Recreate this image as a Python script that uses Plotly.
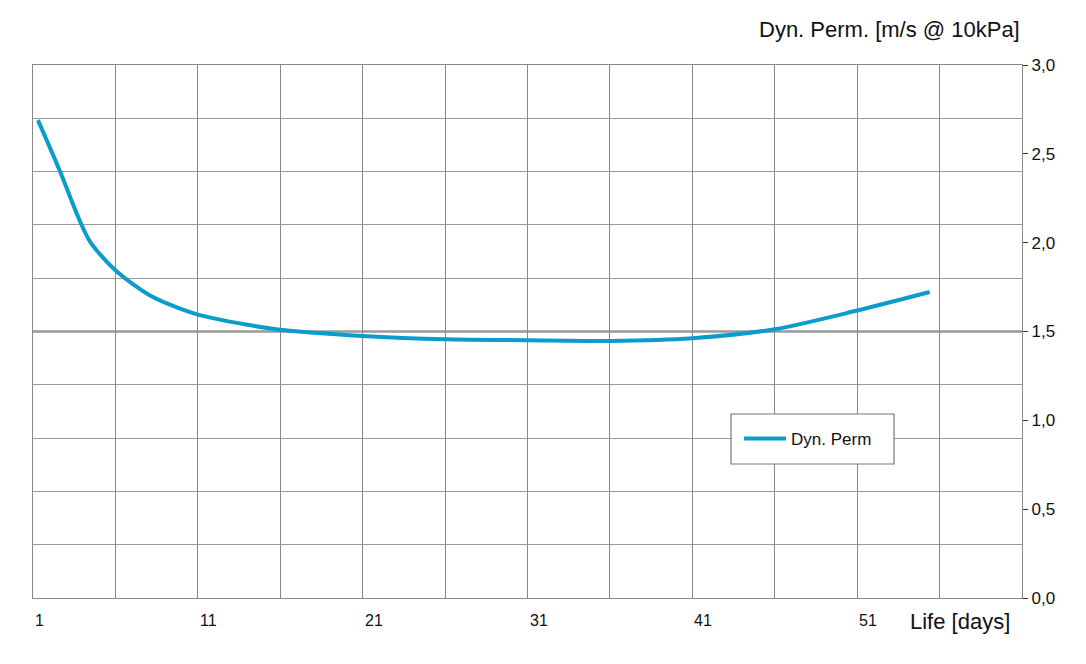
import plotly.graph_objects as go

# Data
days = [1.3, 2.6, 3.85, 4.5, 6.0, 8.1, 10.9, 14.2, 16.0, 21.0, 26.0, 31.0, 36.0, 41.0, 46.0, 51.0, 55.4]
dyn_perm = [2.69, 2.41, 2.12, 2.00, 1.845, 1.703, 1.598, 1.535, 1.51, 1.475, 1.456, 1.451, 1.447, 1.462, 1.513, 1.618, 1.722]
x_tick_labels = [1, 11, 21, 31, 41, 51]
y_tick_vals = [0.0, 0.5, 1.0, 1.5, 2.0, 2.5, 3.0]

FONT = "Liberation Sans, Arial, sans-serif"
GRID = "#888888"

fig = go.Figure()
fig.add_trace(go.Scatter(
    x=days, y=dyn_perm, mode="lines", name="Dyn. Perm",
    line=dict(color="#0a9dcc", width=4, shape="spline", smoothing=0.8),
))

fig.update_layout(
    width=1078, height=656,
    margin=dict(l=25, r=64, t=57, b=66),
    paper_bgcolor="white", plot_bgcolor="white",
    font=dict(family=FONT, color="#111111"),
    showlegend=True,
    legend=dict(
        x=0.7139, y=0.2983, xanchor="left", yanchor="middle",
        borderwidth=0, bgcolor="rgba(0,0,0,0)", itemwidth=42,
        font=dict(size=17, family=FONT),
    ),
    xaxis=dict(
        range=[1, 61], tick0=1, dtick=5, showgrid=True, gridcolor=GRID, gridwidth=1.3,
        showticklabels=False, ticks="", zeroline=False,
        showline=True, mirror=True, linecolor=GRID, linewidth=1.3,
    ),
    yaxis=dict(
        range=[0, 3], side="right", tickmode="array", tickvals=y_tick_vals,
        tickformat=".1f", ticks="outside", ticklen=5, tickcolor="#333333",
        tickfont=dict(size=17, family=FONT), showgrid=False, zeroline=False,
        showline=True, mirror=True, linecolor=GRID, linewidth=1.3,
        minor=dict(tick0=0, dtick=0.3, showgrid=True, gridcolor="#9a9a9a", gridwidth=1.3),
    ),
    separators=",.",
)

# darker reference line at 1.5
fig.add_shape(type="line", xref="paper", yref="y", x0=0, x1=1, y0=1.5, y1=1.5,
              line=dict(color="#666666", width=2), layer="below")

# legend frame
fig.add_shape(type="rect", xref="paper", yref="paper", x0=0.7058, x1=0.8706, y0=0.2514, y1=0.3452,
              line=dict(color="#777777", width=1.2), fillcolor="white", layer="above")

for v in x_tick_labels:
    fig.add_annotation(x=v, xref="x", y=-0.0413, yref="paper", text=str(v),
                       showarrow=False, xanchor="left", yanchor="middle",
                       font=dict(size=16, family=FONT, color="#111111"))

fig.add_annotation(x=0.99, xref="paper", y=-0.0432, yref="paper", text="Life [days]",
                   showarrow=False, xanchor="right", yanchor="middle",
                   font=dict(size=22, family=FONT, color="#111111"))
fig.add_annotation(x=1.0, xref="paper", y=1.0657, yref="paper", text="Dyn. Perm. [m/s @ 10kPa]",
                   showarrow=False, xanchor="right", yanchor="middle",
                   font=dict(size=22, family=FONT, color="#111111"))

fig.write_html("out.html")
